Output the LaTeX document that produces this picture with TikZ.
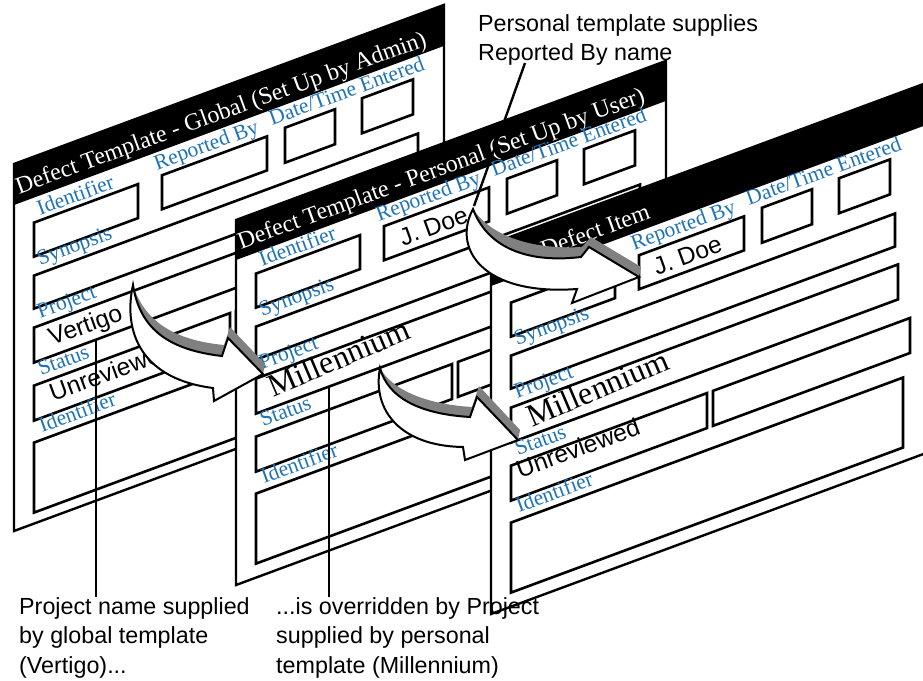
\documentclass[tikz,border=0pt]{standalone}
\usepackage{fontspec}
\setmainfont{Liberation Serif}
\newfontfamily\capsans{Liberation Sans}
\definecolor{lblblue}{RGB}{30,115,185}
\definecolor{shade}{RGB}{128,128,128}
\tikzset{
  panelline/.style={draw=black,line width=2.4pt,line join=miter},
  fieldbox/.style={draw=black,line width=2.6pt,line join=miter},
  lbl/.style={text=lblblue,font=\fontsize{21.5}{23}\selectfont,anchor=base west,inner sep=0pt,rotate=20},
  ttl/.style={text=white,font=\fontsize{24}{26}\selectfont,anchor=base west,inner sep=0pt,rotate=20},
  sval/.style={text=black,font=\capsans\fontsize{24.5}{26}\selectfont,anchor=base west,inner sep=0pt,rotate=20},
  rval/.style={text=black,font=\fontsize{32}{34}\selectfont,anchor=base west,inner sep=0pt,rotate=23},
  caption/.style={font=\capsans\fontsize{23.3}{29.5}\selectfont,align=left,anchor=north west,inner sep=0pt},
  leader/.style={draw=black,line width=2.4pt},
  arrowbody/.style={draw=black,fill=white,line width=2pt,line join=miter},
  arrowshade/.style={fill=shade},
}
\newcommand\fieldrect[4]{\draw[fieldbox] (#1,#2) -- (#3,#2) -- (#3,#4) -- (#1,#4) -- cycle;}
\newcommand\panelboxes{%
  \fieldrect{20}{66}{124}{100}
  \fieldrect{148}{66}{253}{100}
  \fieldrect{271}{64}{321}{99}
  \fieldrect{348}{63}{399}{98}
  \fieldrect{20}{119}{404}{152}
  \fieldrect{20}{171}{407}{206}
  \fieldrect{20}{229}{216}{264}
  \fieldrect{222}{229}{419}{264}
  \fieldrect{20}{286}{412}{356}
}
\newcommand\panellabels[1]{%
  \node[lbl] (#1rb) at (143,59) {Reported By};
  \node[lbl] (#1dt) at (258,57) {Date/Time Entered};
  \node[lbl] (#1syn) at (26,111) {Synopsis};
  \node[lbl] (#1prj) at (26,164) {Project};
  \node[lbl] (#1st) at (27,222) {Status};
  \node[lbl] (#1idb) at (28,279) {Identifier};
}
\begin{document}
\begin{tikzpicture}[x=1pt,y=-1pt]
\useasboundingbox (0,0) rectangle (923,680);
\clip (0,0) rectangle (923,680);

% ---------- Panel 1: global template
\begin{scope}[cm={1,0.37,0,1,(14,164)}]
  \fill[white] (0,0) -- (430,0) -- (430,367) -- (0,367) -- cycle;
  \fill[black] (0,0) -- (430,0) -- (430,41) -- (0,41) -- cycle;
  \draw[panelline] (0,0) -- (430,0) -- (430,367) -- (0,367) -- cycle;
  \node[ttl] (p1title) at (5,32) {Defect Template - Global (Set Up by Admin)};
  \panelboxes
  \node[lbl] (p1id) at (26,61) {Identifier};
  \panellabels{p1}
  \node[sval] (p1proj) at (38,196) {Vertigo};
  \node[sval] (p1stat) at (39,252) {Unreviewed};
\end{scope}

% ---------- Panel 2: personal template
\begin{scope}[cm={1,0.37,0,1,(236,220)}]
  \fill[white] (0,0) -- (430,0) -- (430,365) -- (0,365) -- cycle;
  \fill[black] (0,0) -- (430,0) -- (430,40) -- (0,40) -- cycle;
  \draw[panelline] (0,0) -- (430,0) -- (430,365) -- (0,365) -- cycle;
  \node[ttl] (p2title) at (5,31) {Defect Template - Personal (Set Up by User)};
  \begin{scope}[shift={(0,-5)}]
    \panelboxes
    \node[lbl] (p2id) at (26,61) {Identifier};
    \panellabels{p2}
  \end{scope}
  \node[sval] (p2rep) at (167,88) {J. Doe};
  \node[rval] (p2proj) at (37,191) {Millennium};
\end{scope}

% ---------- Panel 3: new defect item
\begin{scope}[cm={1,0.37,0,1,(491,244)}]
  \fill[white] (0,0) -- (445,0) -- (445,370) -- (0,370) -- cycle;
  \fill[black] (0,0) -- (445,0) -- (445,42) -- (0,42) -- cycle;
  \draw[panelline] (445,0) -- (0,0) -- (0,370) -- (445,370);
  \node[ttl] (p3title) at (5,33) {New Defect Item};
  \panelboxes
  \panellabels{p3}
  \node[sval] (p3rep) at (166,93) {J. Doe};
  \node[rval] (p3proj) at (41,199) {Millennium};
  \node[sval] (p3stat) at (29,245) {Unreviewed};
\end{scope}

% ---------- Arrow 1: Vertigo -> Millennium (panel 2)
\fill[arrowshade] (133,285) .. controls (144,320) and (172,340) .. (224,345) -- (230,327) -- (265,364) -- (263,374) -- (228,338) -- (222,356) .. controls (170,350) and (140,330) .. (133,285) -- cycle;
\draw[arrowbody] (133,285) .. controls (124,325) and (135,378) .. (213,388) -- (214,401) -- (263,374) -- (228,338) -- (222,356) .. controls (170,350) and (140,330) .. (133,285) -- cycle;

% ---------- Arrow 2: Millennium (panel 2) -> Millennium (panel 3)
\fill[arrowshade] (380,368) .. controls (391,388) and (422,404) .. (472,407) -- (479,386) -- (520,430) -- (518,440) -- (477,397) -- (470,417) .. controls (420,414) and (388,398) .. (380,368) -- cycle;
\draw[arrowbody] (380,368) .. controls (372,410) and (400,446) .. (463,447) -- (465,460) -- (518,440) -- (477,397) -- (470,417) .. controls (420,414) and (388,398) .. (380,368) -- cycle;

% ---------- Arrow 3: J. Doe (panel 2) -> J. Doe (panel 3)
\fill[arrowshade] (473,209) .. controls (488,232) and (524,250) .. (582,247) -- (591,237) -- (641,267) -- (639,277) -- (589,247) -- (581,257) .. controls (522,264) and (486,244) .. (473,209) -- cycle;
\draw[arrowbody] (473,209) .. controls (452,248) and (482,296) .. (577,289) -- (572,303) -- (639,277) -- (589,247) -- (581,257) .. controls (522,264) and (486,244) .. (473,209) -- cycle;

% ---------- Captions
\node[caption] (capglobal) at (19,597) {Project name supplied\\by global template\\(Vertigo)...};
\node[caption] (capover) at (276,597) {...is overridden by Project\\supplied by personal\\template (Millennium)};
\node[caption] (cappers) at (478,14) {Personal template supplies\\Reported By name};

% ---------- Leader lines
\coordinate (l1a) at (96,340);
\coordinate (l1b) at (96,597);
\coordinate (l2a) at (329,388);
\coordinate (l2b) at (329,597);
\coordinate (l3a) at (525,63);
\coordinate (l3b) at (474,206);
\draw[leader] (l1a) -- (l1b);
\draw[leader] (l2a) -- (l2b);
\draw[leader] (l3a) -- (l3b);
\end{tikzpicture}
\end{document}
